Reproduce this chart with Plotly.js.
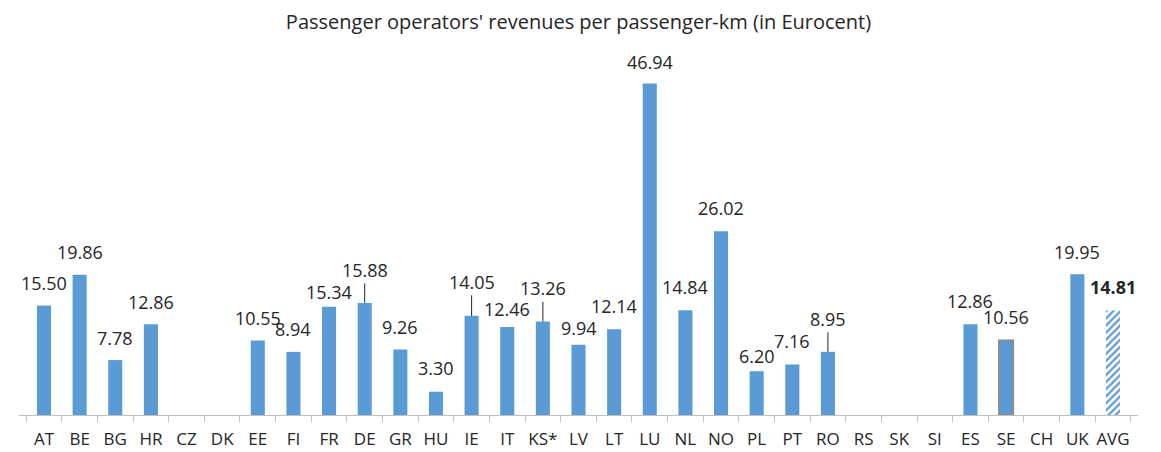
<!DOCTYPE html>
<html>
<head>
<meta charset="utf-8">
<script src="https://cdn.plot.ly/plotly-3.0.1.min.js"></script>
<style>html,body{margin:0;padding:0;background:#fff;}#chart{width:1161px;height:452px;}</style>
</head>
<body>
<div id="chart"></div>
<script>
// ---- data ----
const categories = ['AT','BE','BG','HR','CZ','DK','EE','FI','FR','DE','GR','HU','IE','IT','KS*','LV','LT','LU','NL','NO','PL','PT','RO','RS','SK','SI','ES','SE','CH','UK','AVG'];
const revenues = [15.50,19.86,7.78,12.86,null,null,10.55,8.94,15.34,15.88,9.26,3.30,14.05,12.46,13.26,9.94,12.14,46.94,14.84,26.02,6.20,7.16,8.95,null,null,null,12.86,10.56,null,19.95,14.81];
const titleText = "Passenger operators' revenues per passenger-km (in Eurocent)";

// ---- label placement (pixels above bar top) and leader-line flags ----
const labelLift = [23,23,22,22,0,0,23,23,15,33,23,24,34,18,33,17,23,22,23,23,15,23,33,0,0,0,23,23,0,22,23];
const hasLeader = [0,0,0,0,0,0,0,0,0,1,0,0,1,0,1,0,0,0,0,0,0,0,1,0,0,0,0,0,0,0,0];

const BLUE = '#5B9BD5';
const n = categories.length;
const lineColors = categories.map(c => c === 'SE' ? '#8c8c8c' : 'rgba(0,0,0,0)');
const lineWidths = categories.map(c => c === 'SE' ? 2 : 0);
const patternShapes = categories.map(c => c === 'AVG' ? '/' : '');

const trace = {
  type: 'bar',
  x: categories,
  y: revenues,
  marker: {
    color: BLUE,
    line: {color: lineColors, width: lineWidths},
    pattern: {shape: patternShapes, size: 5, solidity: 0.45, fillmode: 'replace'}
  },
  hoverinfo: 'x+y',
  cliponaxis: false
};

const annotations = [];
for (let i = 0; i < n; i++) {
  if (revenues[i] === null) continue;
  const isAvg = categories[i] === 'AVG';
  const a = {
    x: categories[i], y: revenues[i], xref: 'x', yref: 'y',
    text: isAvg ? '<b>' + revenues[i].toFixed(2) + '</b>' : revenues[i].toFixed(2),
    font: {family: 'Open Sans, sans-serif', size: 18, color: '#262626'},
    xanchor: 'center', yanchor: 'middle'
  };
  if (hasLeader[i]) {
    a.showarrow = true; a.ax = 0; a.ay = -labelLift[i];
    a.arrowhead = 0; a.arrowwidth = 1; a.arrowcolor = '#262626'; a.standoff = 0;
  } else {
    a.showarrow = false; a.yshift = labelLift[i];
  }
  annotations.push(a);
}

const layout = {
  width: 1161, height: 452,
  margin: {l: 19, r: 23, t: 62, b: 37, pad: 0},
  paper_bgcolor: '#ffffff', plot_bgcolor: '#ffffff',
  showlegend: false,
  bargap: 0.605,
  title: {
    text: titleText,
    font: {family: 'Open Sans, sans-serif', size: 20, color: '#262626'},
    x: 0.5, xanchor: 'center', xref: 'paper',
    y: 1 - 22/452, yanchor: 'middle', yref: 'container'
  },
  xaxis: {
    type: 'category',
    tickson: 'boundaries',
    tickangle: 0,
    ticks: 'outside', ticklen: 6, tickcolor: '#bfbfbf', tickwidth: 1,
    showline: true, linecolor: '#bfbfbf', linewidth: 1,
    showgrid: false, zeroline: false,
    tickfont: {family: 'Open Sans, sans-serif', size: 17, color: '#262626'},
    ticklabelstandoff: 9,
    automargin: false, fixedrange: true
  },
  yaxis: {
    range: [0, 50], visible: false, showgrid: false, zeroline: false,
    automargin: false, fixedrange: true
  },
  annotations: annotations
};

Plotly.newPlot('chart', [trace], layout, {displayModeBar: false, staticPlot: true});
</script>
</body>
</html>
